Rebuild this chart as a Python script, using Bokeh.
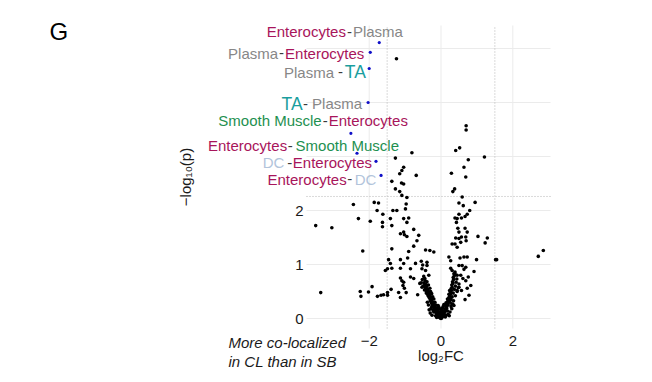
import math
from bokeh.plotting import figure
from bokeh.models import ColumnDataSource, LabelSet, Label, Range1d
from bokeh.core.properties import field, value
from bokeh.embed import file_html
from bokeh.resources import INLINE

# ---------------- data ----------------
# black (unlabelled) points: log2FC, -log10(p)
pts_x = [
    -1.24,
    -0.81, -1.27, -1.04, -1.09, -1.15, -0.69, -1.37, -1.10, -1.04, -1.27, -1.15, -1.09, -0.95,
    -1.86, -1.74, -2.44, -0.97, -1.78, -1.62, -1.34, -1.23, -0.99, -2.30, -1.41, -1.04, -0.90,
    -3.49, -3.04, -1.97, -1.63, -1.63, -1.37, -0.95, -1.13, -1.04, -1.02, -0.76, -0.62, -0.67,
    -0.95, -0.76, -1.37, -0.90, -2.18, -0.43, -0.31, -0.20, -1.46, -1.41, -1.13, -1.04, -0.93,
    -0.55, -0.51, -0.71, -1.55, -1.49, -1.37, -1.13, -0.85, -0.53, -0.43, -0.39, -0.34, -1.13,
    -1.09, -1.04, -0.85, -0.76, -0.59, -0.53, -0.46, -1.06, -1.02, -1.92, -2.25, -2.23, -2.02,
    -1.77, -1.67, -1.60, -1.49, -1.49, -1.39, -1.18, -1.13, -0.97, -0.65, -3.35,
    0.70, 0.70, 0.52, 0.41, 1.21, 0.76, 0.64, 0.29, 0.69, 0.38, 0.33, 0.59, 0.95, 0.50, 0.62,
    0.80, 0.50, 0.73, 0.39, 0.45, 0.57, 0.67,
    0.43, 0.47, 0.50, 0.67, 0.73, 1.03, 1.29, 1.23, 0.41, 0.50, 0.57, 0.69, 0.70, 0.31, 0.39,
    0.45, 0.55, 0.22, 0.27, 0.53, 0.64, 0.73, 0.99, 1.52, 1.55, 2.71, 2.85, -0.39, 0.50, 0.59,
    0.69, 0.64, 0.92, 0.27, 0.31, 0.39, 0.45, 0.55, 0.61, 0.69, 0.76, 0.83, 0.73, 0.50, 0.45,
    0.57, 0.78, 0.67,
    -0.48, -0.45, -0.44, -0.47, -0.42, -0.40, -0.43, -0.38, -0.36, -0.40, -0.34, -0.37, -0.32,
    -0.30, -0.33, -0.28, -0.26, -0.30, -0.24, -0.27, -0.22, -0.20, -0.25, -0.18, -0.21, -0.16,
    -0.19, -0.14, -0.17, -0.12, -0.15, -0.10, -0.13, -0.08, -0.11, -0.06, -0.09, -0.05, -0.07,
    -0.03, -0.04, -0.02, -0.35, -0.39, -0.31, -0.29, -0.26, -0.23, -0.20, -0.17, -0.14, -0.11,
    -0.52, -0.55, -0.50, -0.46, -0.41, -0.36, -0.31, -0.27, -0.22, -0.18, -0.09, -0.07, -0.05,
    -0.03, -0.01,
    0.02, 0.03, 0.05, 0.04, 0.07, 0.06, 0.09, 0.08, 0.11, 0.10, 0.13, 0.12, 0.15, 0.14, 0.17,
    0.16, 0.19, 0.18, 0.21, 0.20, 0.23, 0.22, 0.25, 0.24, 0.27, 0.26, 0.29, 0.28, 0.31, 0.30,
    0.33, 0.32, 0.35, 0.34, 0.37, 0.36, 0.39, 0.25, 0.28, 0.31, 0.34, 0.37, 0.40, 0.42, 0.44,
    0.20, 0.16, 0.12, 0.08, 0.30, 0.35, 0.40, 0.45, 0.48, 0.50, 0.14, 0.18, 0.22, 0.24,
    0.00, -0.01, 0.01, 0.00, -0.02, 0.02, 0.00, -0.04, 0.04, -0.06, 0.06, -0.08, 0.08, 0.00,
    0.01, -0.03, 0.03,
    -0.30, -0.25, -0.20, -0.15, -0.28, 0.20, 0.25, 0.30, 0.15, 0.28, -0.35, 0.33, -0.22, 0.18,
    -0.12, 0.12, -0.33, -0.38, 0.36, -0.26, 0.23,
]
pts_y = [
    4.81,
    3.07, 2.97, 2.80, 2.74, 2.68, 2.65, 2.54, 2.51, 2.49, 2.40, 2.35, 2.28, 2.24,
    2.15, 2.14, 2.11, 2.12, 2.00, 1.93, 2.00, 2.00, 2.03, 1.85, 1.85, 1.85, 1.86,
    1.72, 1.68, 1.80, 1.78, 1.70, 1.72, 1.78, 1.57, 1.60, 1.55, 1.65, 1.54, 1.44,
    1.52, 1.34, 1.29, 1.24, 1.25, 1.27, 1.26, 1.23, 1.09, 1.02, 1.09, 1.02, 1.12,
    1.06, 0.99, 1.02, 0.89, 0.92, 0.93, 0.93, 0.92, 0.92, 0.89, 0.98, 0.80, 0.75,
    0.70, 0.67, 0.77, 0.74, 0.65, 0.58, 0.61, 0.61, 0.56, 0.59, 0.50, 0.41, 0.49,
    0.41, 0.43, 0.44, 0.48, 0.43, 0.54, 0.48, 0.39, 0.48, 0.44, 0.48,
    3.57, 3.49, 3.16, 3.11, 2.99, 2.94, 2.80, 2.69, 2.62, 2.40, 2.35, 2.25, 2.15, 2.14, 2.09,
    2.00, 1.93, 1.93, 1.86, 1.85, 1.86, 1.89,
    1.78, 1.67, 1.60, 1.67, 1.60, 1.52, 1.49, 1.40, 1.49, 1.48, 1.51, 1.51, 1.44, 1.38, 1.38,
    1.32, 1.41, 1.14, 1.07, 1.12, 1.14, 1.14, 1.09, 1.09, 1.09, 1.15, 1.26, 1.04, 0.98, 0.98,
    0.95, 0.91, 0.87, 0.93, 0.89, 0.83, 0.80, 0.80, 0.74, 0.70, 0.77, 0.61, 0.56, 0.58, 0.52,
    0.52, 0.43, 0.35,
    0.78, 0.74, 0.70, 0.66, 0.63, 0.60, 0.57, 0.55, 0.52, 0.50, 0.48, 0.45, 0.44,
    0.41, 0.39, 0.37, 0.35, 0.33, 0.31, 0.29, 0.28, 0.26, 0.25, 0.23, 0.22, 0.20,
    0.18, 0.17, 0.15, 0.14, 0.12, 0.11, 0.10, 0.09, 0.08, 0.07, 0.06, 0.05, 0.04,
    0.03, 0.02, 0.01, 0.62, 0.68, 0.56, 0.50, 0.46, 0.40, 0.36, 0.30, 0.25, 0.20,
    0.72, 0.66, 0.60, 0.53, 0.47, 0.42, 0.37, 0.32, 0.27, 0.24, 0.15, 0.12, 0.09,
    0.06, 0.03,
    0.01, 0.03, 0.04, 0.06, 0.07, 0.09, 0.10, 0.12, 0.13, 0.15, 0.16, 0.18, 0.20, 0.22, 0.24,
    0.26, 0.28, 0.30, 0.32, 0.34, 0.36, 0.39, 0.41, 0.44, 0.46, 0.49, 0.52, 0.55, 0.58, 0.62,
    0.65, 0.68, 0.72, 0.76, 0.79, 0.83, 0.86, 0.30, 0.35, 0.40, 0.47, 0.54, 0.60, 0.67, 0.73,
    0.25, 0.19, 0.14, 0.08, 0.27, 0.33, 0.42, 0.50, 0.57, 0.64, 0.29, 0.36, 0.45, 0.52,
    0.02, 0.05, 0.07, 0.10, 0.12, 0.14, 0.16, 0.18, 0.19, 0.21, 0.22, 0.24, 0.26, 0.00,
    0.04, 0.09, 0.11,
    0.10, 0.06, 0.12, 0.05, 0.18, 0.08, 0.12, 0.18, 0.06, 0.22, 0.25, 0.27, 0.15, 0.14,
    0.02, 0.03, 0.16, 0.30, 0.24, 0.21, 0.05,
]

# labelled (highlighted) pairs
lab_x = [-1.72, -1.97, -2.00, -2.03, -2.51, -2.34, -1.81, -1.67]
lab_y = [5.11, 4.93, 4.63, 4.00, 3.43, 3.06, 2.91, 2.65]
lab_a = ["Enterocytes", "Plasma", "Plasma", "TA", "Smooth Muscle", "Enterocytes", "DC", "Enterocytes"]
lab_b = ["Plasma", "Enterocytes", "TA", "Plasma", "Enterocytes", "Smooth Muscle", "Enterocytes", "DC"]

x_ticks = [-2, 0, 2]
x_tick_labels = ["\u22122", "0", "2"]
y_grid = [0, 1, 2, 3, 4, 5]
y_ticks = [0, 1, 2]
y_tick_labels = ["0", "1", "2"]
fc_cut = [-1.5, 1.5]
p_cut = 2.26

# ---------------- styling / layout ----------------
FONT = "Liberation Sans"
TXT = "#1A1A1A"
cell_colors = {"Enterocytes": "#A8155B", "Plasma": "#878787", "TA": "#1A9E9E",
               "Smooth Muscle": "#1E9050", "DC": "#B2C4DB"}
cell_sizes = {"Enterocytes": 15, "Plasma": 15, "TA": 17.5, "Smooth Muscle": 15, "DC": 15}
# label layout (screen px relative to the dot): right edge, vertical centre (down +)
lab_right = [23.7, -6, -3.3, -6, 57, 42, -4, -4.7]
lab_down = [-11, 1, 4, 1, -12.7, -7.7, 1.3, 4]
gap_a = [1, 1, 4, 0.5, 1, 0.5, 3, 0.5]      # px between first name and dash
gap_b = [1, 1, 0.5, 4, 1, 3, 0.5, 2.5]      # px between dash and second name

ARIAL = {"E": 667, "n": 556, "t": 278, "e": 556, "r": 333, "o": 556, "c": 500, "y": 500,
         "s": 500, "P": 667, "l": 222, "a": 556, "m": 833, "T": 611, "A": 667, "S": 667,
         "h": 556, "M": 833, "u": 556, "D": 722, "C": 722, " ": 278, "-": 333}


def tw(s, size):
    return sum(ARIAL.get(ch, 556) for ch in s) / 1000.0 * size


W, H = 640, 376
# pixel geometry of the panel (canvas px)
X0_PX, PX_PER_X = 440.5, 35.9      # x = 0 position and px per unit
Y0_PX, PX_PER_Y = 318.0, 54.0      # y = 0 position and px per unit
PANEL_L, PANEL_R, PANEL_T, PANEL_B = 306, 550, 25, 328


def px2x(px):
    return (px - X0_PX) / PX_PER_X


def py2y(py):
    return (Y0_PX - py) / PX_PER_Y


XP_LO, XP_HI = px2x(PANEL_L), px2x(PANEL_R)
YP_LO, YP_HI = py2y(PANEL_B), py2y(PANEL_T)

p = figure(width=W, height=H, x_range=Range1d(px2x(0), px2x(W)),
           y_range=Range1d(py2y(H), py2y(0)),
           output_backend="svg", toolbar_location=None,
           x_axis_location=None, y_axis_location=None,
           min_border=0, min_border_left=0, min_border_right=0,
           min_border_top=0, min_border_bottom=0)
p.outline_line_color = None
p.background_fill_color = "white"
p.xgrid.visible = False
p.ygrid.visible = False

# panel grid
p.segment(x0=[XP_LO] * len(y_grid), x1=[XP_HI] * len(y_grid), y0=y_grid, y1=y_grid,
          line_color="#EBEBEB", line_width=1)
p.segment(x0=x_ticks, x1=x_ticks, y0=[YP_LO] * len(x_ticks), y1=[YP_HI] * len(x_ticks),
          line_color="#EBEBEB", line_width=1)
# thresholds
p.segment(x0=fc_cut, x1=fc_cut, y0=[YP_LO] * 2, y1=[YP_HI] * 2,
          line_color="#B5B5B5", line_dash="1 2", line_width=1)
p.segment(x0=[XP_LO], x1=[XP_HI], y0=[p_cut], y1=[p_cut],
          line_color="#B5B5B5", line_dash="1 2", line_width=1)

p.scatter(pts_x, pts_y, size=3.6, color="black", line_color=None)
p.scatter(lab_x, lab_y, size=3.2, color="#1010C8", line_color=None)

# axis tick labels
p.add_layout(LabelSet(x="x", y="y", text="t", y_offset=-12,
                      source=ColumnDataSource(dict(x=x_ticks, y=[YP_LO] * 3, t=x_tick_labels)),
                      text_font=value(FONT), text_font_size="15px", text_color=TXT,
                      text_align="center", text_baseline="middle"))
p.add_layout(LabelSet(x="x", y="y", text="t", x_offset=-3,
                      source=ColumnDataSource(dict(x=[XP_LO] * 3, y=y_ticks, t=y_tick_labels)),
                      text_font=value(FONT), text_font_size="15px", text_color=TXT,
                      text_align="right", text_baseline="middle"))
p.add_layout(Label(x=0, y=YP_LO, y_offset=-27, text="log\u2082FC", text_font=FONT,
                   text_font_size="15px", text_color=TXT, text_align="center",
                   text_baseline="middle"))
p.add_layout(Label(x=px2x(185), y=(YP_LO + YP_HI) / 2, angle=math.pi / 2,
                   text="\u2212log\u2081\u2080(p)", text_font=FONT, text_font_size="15px",
                   text_color=TXT, text_align="center", text_baseline="middle"))

# rich two-coloured labels
seg = dict(x=[], y=[], xo=[], yo=[], text=[], color=[], size=[])
for i in range(len(lab_x)):
    a, b = lab_a[i], lab_b[i]
    parts = [(b, cell_colors[b], cell_sizes[b], gap_b[i]),
             ("-", "#3A3A3A", 15, gap_a[i]),
             (a, cell_colors[a], cell_sizes[a], 0)]
    right = lab_right[i]
    for txt, col, sz, gap in parts:
        seg["x"].append(lab_x[i])
        seg["y"].append(lab_y[i])
        seg["xo"].append(right)
        seg["yo"].append(-lab_down[i])
        seg["text"].append(txt)
        seg["color"].append(col)
        seg["size"].append(f"{sz}px")
        right -= tw(txt, sz) + gap

p.add_layout(LabelSet(x="x", y="y", x_offset="xo", y_offset="yo", text="text",
                      source=ColumnDataSource(seg), text_color=field("color"),
                      text_font_size=field("size"), text_font=value(FONT),
                      text_align="right", text_baseline="middle"))

p.add_layout(Label(x=px2x(49), y=py2y(31), text="G", text_font=FONT, text_font_size="24px",
                   text_color="black", text_baseline="middle", text_align="left"))
for txt, py in (("More co-localized", 342), ("in CL than in SB", 361)):
    p.add_layout(Label(x=px2x(228), y=py2y(py), text=txt, text_font=FONT,
                       text_font_size="15px", text_font_style="italic", text_color=TXT,
                       text_baseline="middle", text_align="left"))

open("out.html", "w").write(file_html(p, INLINE))
